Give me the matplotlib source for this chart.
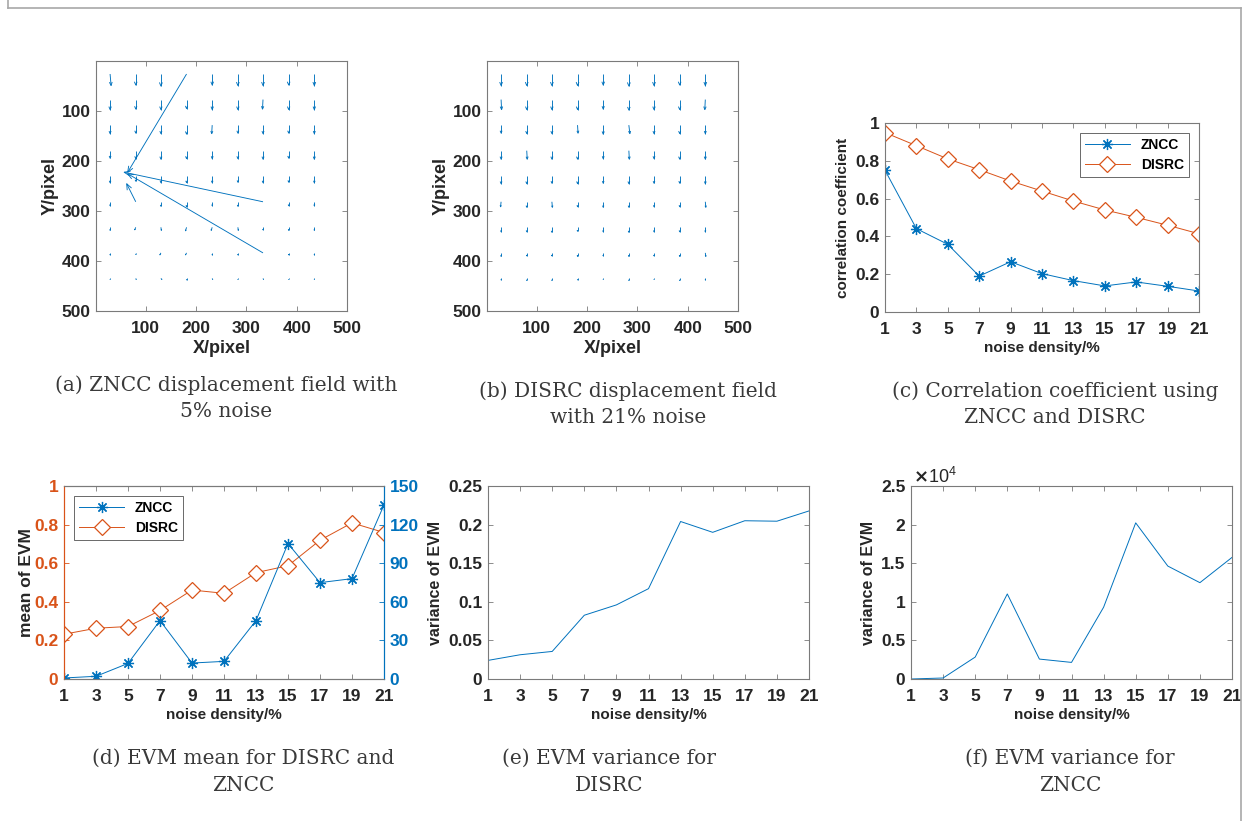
import numpy as np
import matplotlib.pyplot as plt
from matplotlib.collections import LineCollection
from matplotlib.lines import Line2D
from matplotlib.ticker import FuncFormatter

BLUE = "#0072BD"
ORANGE = "#D95319"
INK = "#262626"
EDGE = "#7a7a7a"

plt.rcParams["font.family"] = ["Liberation Sans", "DejaVu Sans"]
plt.rcParams["font.weight"] = "bold"
plt.rcParams["axes.labelweight"] = "bold"

# noise sweep
noise = [1, 3, 5, 7, 9, 11, 13, 15, 17, 19, 21]
corr_zncc = [0.750, 0.441, 0.358, 0.190, 0.266, 0.203, 0.166, 0.138, 0.159, 0.136, 0.111]
corr_disrc = [0.949, 0.880, 0.810, 0.753, 0.693, 0.640, 0.587, 0.540, 0.501, 0.459, 0.414]
evm_mean_zncc = [0.8, 2.1, 12.1, 45.4, 12.4, 13.7, 45.4, 105.3, 74.9, 78.0, 135.3]
evm_mean_disrc = [0.232, 0.263, 0.272, 0.355, 0.461, 0.444, 0.551, 0.587, 0.719, 0.809, 0.759]
evm_var_disrc = [0.0241, 0.0314, 0.0357, 0.0826, 0.0960, 0.117, 0.204, 0.190, 0.205, 0.2044, 0.2177]
evm_var_zncc = [0, 130, 2840, 11015, 2580, 2150, 9294, 20224, 14630, 12478, 15749]

# subset centres (pixels)
grid_x = [29, 80, 130, 181, 232, 283, 333, 384, 435]
grid_y = [27, 78, 129, 180, 231, 282, 333, 384, 435]

# ZNCC displacements at 5% noise, rows follow grid_y
u_zncc = [
    [2, 0, 0, -117, 0, 0, 0, 0, 0],
    [0, 0, 0, 0, 0, 0, -1, 0, 0],
    [0, 0, 0, 0, -1, 0, 0, 0, 0],
    [0, 0, 0, 0, 0, 0, 0, 0, 0],
    [0, 0, 0, 0, 0, 0, 0, 0, 0],
    [0, -18, 0, 0, 0, 0, -276, 0, 0],
    [0, -2, 1, -2, -2, 1, 0, 0, 0],
    [0, 0, -2, -2, 0, 0, -269, 0, 0],
    [0, 1, 2, 0, 1, 0, 1, 0, 0],
]
v_zncc = [
    [23, 22, 24, 196, 22, 23, 23, 22, 23],
    [20, 19, 20, 18, 20, 20, 19, 20, 20],
    [17, 16, 17, 18, 17, 16, 17, 16, 17],
    [15, 16, 17, 16, 16, 16, 17, 15, 17],
    [13, 10, 13, 13, 13, 12, 13, 12, 13],
    [8, -36, 9, 10, 8, 9, -59, 8, 8],
    [6, 5, 6, 7, 6, 6, 5, 6, 6],
    [4, 3, 4, 4, 4, 4, -158, 4, 4],
    [2, 2, 2, 3, 2, 2, 2, 2, 2],
]

# DISRC displacements at 21% noise
u_disrc = [
    [0, 0, 0, 0, 0, 0, 0, 0, 0],
    [1, 0, 0, 0, 0, 0, 0, 0, -1],
    [0, 0, 0, 1, 0, 2, 0, 0, 0],
    [0, 1, 0, 0, 0, 1, 0, 0, 0],
    [0, 0, 0, 0, 0, 0, 0, 0, 0],
    [-1, 0, 1, 0, 0, 0, 0, 0, 1],
    [0, 0, 0, 0, 0, 0, 0, 0, 0],
    [0, 0, 0, 0, 0, 0, 0, 0, 1],
    [0, 0, 0, 0, 0, 0, 0, 0, 0],
]
v_disrc = [
    [23, 23, 23, 23, 22, 24, 23, 22, 23],
    [20, 20, 20, 20, 19, 21, 20, 20, 20],
    [16, 17, 17, 16, 18, 17, 17, 17, 17],
    [17, 17, 17, 17, 16, 17, 16, 17, 17],
    [15, 15, 14, 15, 14, 15, 14, 14, 15],
    [10, 11, 11, 10, 11, 11, 10, 10, 11],
    [9, 9, 10, 8, 9, 10, 9, 9, 9],
    [7, 6, 6, 7, 6, 7, 6, 7, 7],
    [3, 4, 4, 3, 2, 4, 2, 4, 3],
]

captions = [
    "(a) ZNCC displacement field with\n5% noise",
    "(b) DISRC displacement field\nwith 21% noise",
    "(c) Correlation coefficient using\nZNCC and DISRC",
    "(d) EVM mean for DISRC and\nZNCC",
    "(e) EVM variance for\nDISRC",
    "(f) EVM variance for\nZNCC",
]


def matlab_box(ax, fs=12.5):
    ax.tick_params(direction="in", length=3.5, width=0.6, top=True, right=True,
                   labelsize=fs, colors=EDGE, labelcolor=INK, pad=4)
    ax.tick_params(axis="x", pad=7)
    for s in ax.spines.values():
        s.set_color(EDGE)
        s.set_linewidth(0.8)


def quiver_matlab(ax, u, v):
    # shafts plus open V heads
    X, Y = np.meshgrid(grid_x, grid_y)
    U, V = np.asarray(u, float), np.asarray(v, float)
    segs = []
    for x, y, du, dv in zip(X.ravel(), Y.ravel(), U.ravel(), V.ravel()):
        L = np.hypot(du, dv)
        if L == 0:
            continue
        tx, ty = x + du, y + dv
        dx, dy = du / L, dv / L
        h = min(0.3 * L, 12)
        w = 0.4 * h
        segs.append([(x, y), (tx, ty)])
        segs.append([(tx - h * dx - w * dy, ty - h * dy + w * dx), (tx, ty),
                     (tx - h * dx + w * dy, ty - h * dy - w * dx)])
    ax.add_collection(LineCollection(segs, colors=BLUE, linewidths=0.65))
    ax.set_xlim(1, 500)
    ax.set_ylim(500, 1)
    ax.set_xticks([100, 200, 300, 400, 500])
    ax.set_yticks([100, 200, 300, 400, 500])
    matlab_box(ax)
    ax.set_xlabel("X/pixel", fontsize=13, color=INK, labelpad=3)
    ax.set_ylabel("Y/pixel", fontsize=13, color=INK, labelpad=2)


def noise_axis(ax):
    ax.set_xlim(1, 21)
    ax.set_xticks(noise)
    ax.set_xlabel("noise density/%", fontsize=11, color=INK, labelpad=3)


fig = plt.figure(figsize=(12.44, 8.21), dpi=100)

W, H = 1244, 821


def px_axes(x0, y0, x1, y1):
    return fig.add_axes([x0 / W, 1 - y1 / H, (x1 - x0) / W, (y1 - y0) / H])


ax_a = px_axes(96, 61, 347, 311)
ax_b = px_axes(487, 61, 738, 311)
ax_c = px_axes(885, 123, 1199, 312)
ax_d = px_axes(64, 486, 384, 679)
ax_e = px_axes(488, 486, 809, 679)
ax_f = px_axes(911, 486, 1232, 679)

quiver_matlab(ax_a, u_zncc, v_zncc)
quiver_matlab(ax_b, u_disrc, v_disrc)

# correlation coefficient
ax_c.plot(noise, corr_zncc, color=BLUE, lw=0.7, marker=(8, 2, 0), ms=8, mew=0.9, label="ZNCC")
ax_c.plot(noise, corr_disrc, color=ORANGE, lw=0.7, marker="D", ms=8, mew=0.9,
          mfc="white", label="DISRC")
noise_axis(ax_c)
ax_c.set_ylim(0, 1)
ax_c.set_yticks([0, 0.2, 0.4, 0.6, 0.8, 1])
ax_c.set_yticklabels(["0", "0.2", "0.4", "0.6", "0.8", "1"])
ax_c.set_ylabel("correlation coefficient", fontsize=11, color=INK, labelpad=4)
matlab_box(ax_c)
leg = ax_c.legend(loc="upper right", fontsize=10, frameon=True, fancybox=False,
                  handlelength=3.2, borderaxespad=0.7, labelspacing=0.4)
leg.get_frame().set_edgecolor(INK)
leg.get_frame().set_linewidth(0.6)

# EVM mean, two y axes
ax_d2 = ax_d.twinx()
l1, = ax_d2.plot(noise, evm_mean_zncc, color=BLUE, lw=0.7, marker=(8, 2, 0), ms=8, mew=0.9,
                 label="ZNCC")
l2, = ax_d.plot(noise, evm_mean_disrc, color=ORANGE, lw=0.7, marker="D", ms=8, mew=0.9,
                mfc="white", label="DISRC")
noise_axis(ax_d)
ax_d.set_ylim(0, 1)
ax_d.set_yticks([0, 0.2, 0.4, 0.6, 0.8, 1])
ax_d.set_yticklabels(["0", "0.2", "0.4", "0.6", "0.8", "1"])
ax_d2.set_ylim(0, 150)
ax_d2.set_yticks([0, 30, 60, 90, 120, 150])
ax_d.set_ylabel("mean of EVM", fontsize=12.5, color=INK, labelpad=0)
matlab_box(ax_d)
ax_d.tick_params(axis="y", right=False, colors=ORANGE, labelcolor=ORANGE)
ax_d2.tick_params(axis="y", direction="in", length=3.5, width=0.6, labelsize=12.5,
                  colors=BLUE, labelcolor=BLUE, pad=4)
for s in ax_d2.spines.values():
    s.set_color(EDGE)
    s.set_linewidth(0.8)
ax_d2.spines["left"].set_color(ORANGE)
ax_d2.spines["right"].set_color(BLUE)
ax_d.spines["left"].set_color(ORANGE)
ax_d.spines["right"].set_color(BLUE)
leg = ax_d2.legend([l1, l2], ["ZNCC", "DISRC"], loc="upper left", fontsize=10,
                   frameon=True, fancybox=False, handlelength=3.2,
                   borderaxespad=0.7, labelspacing=0.4)
leg.get_frame().set_edgecolor(INK)
leg.get_frame().set_linewidth(0.6)

# EVM variance, DISRC
ax_e.plot(noise, evm_var_disrc, color=BLUE, lw=0.7)
noise_axis(ax_e)
ax_e.set_ylim(0, 0.25)
ax_e.set_yticks([0, 0.05, 0.1, 0.15, 0.2, 0.25])
ax_e.set_yticklabels(["0", "0.05", "0.1", "0.15", "0.2", "0.25"])
ax_e.set_ylabel("variance of EVM", fontsize=11.5, color=INK, labelpad=4)
matlab_box(ax_e)

# EVM variance, ZNCC
ax_f.plot(noise, evm_var_zncc, color=BLUE, lw=0.7)
noise_axis(ax_f)
ax_f.set_ylim(0, 25000)
ax_f.set_yticks([0, 5000, 10000, 15000, 20000, 25000])
ax_f.yaxis.set_major_formatter(FuncFormatter(lambda y, _: f"{y / 1e4:g}"))
ax_f.set_ylabel("variance of EVM", fontsize=11.5, color=INK, labelpad=4)
ax_f.text(0.005, 0.995, r"$\times\mathregular{10^{4}}$", transform=ax_f.transAxes,
          fontsize=13, color=INK, ha="left", va="bottom", fontweight="normal")
matlab_box(ax_f)

# captions
cap_pos = [(226, 398), (628, 404), (1055, 404), (243, 772), (609, 772), (1070, 772)]
for (cx, cy), text in zip(cap_pos, captions):
    fig.text(cx / W, 1 - cy / H, text, ha="center", va="center", fontsize=14.5,
             family="DejaVu Serif", weight="normal", color="#3a3a3a", linespacing=1.5)

# page frame
for xs, ys in [((8, 8), (0, 8)), ((8, 1241), (8, 8)), ((1241, 1241), (8, 821))]:
    fig.add_artist(Line2D([x / W for x in xs], [1 - y / H for y in ys],
                          color="#a8a8a8", lw=1.2))

fig.savefig("out.png", dpi=100)
